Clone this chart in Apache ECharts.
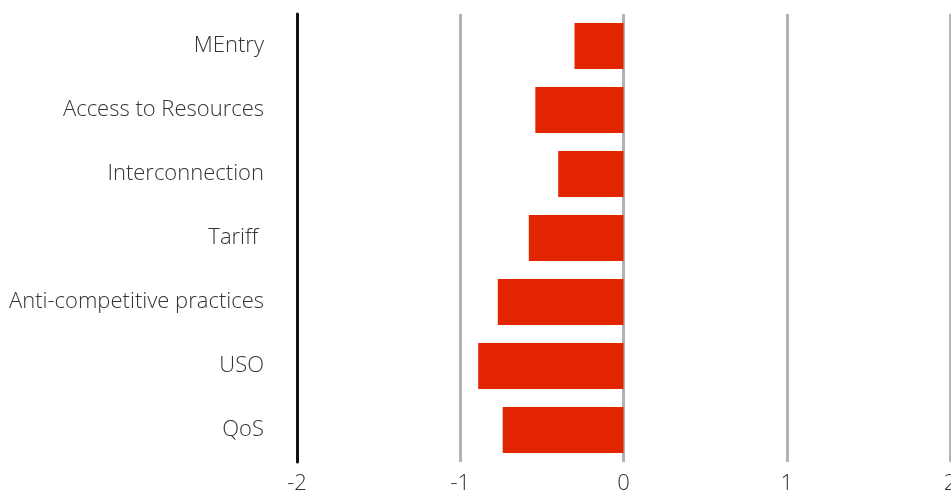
<!DOCTYPE html>
<html>
<head>
<meta charset="utf-8">
<script src="https://cdn.jsdelivr.net/npm/echarts@6/dist/echarts.min.js"></script>
<style>
  html, body { margin: 0; padding: 0; background: #fff; }
  #chart { width: 951px; height: 490px; }
</style>
</head>
<body>
<div id="chart"></div>
<script>
const categories = ["MEntry", "Access to Resources", "Interconnection", "Tariff ", "Anti-competitive practices", "USO", "QoS"];
const values = [-0.30, -0.54, -0.40, -0.58, -0.77, -0.89, -0.74];
const xTicks = [-2, -1, 0, 1, 2];

const chart = echarts.init(document.getElementById("chart"));
chart.setOption({
  backgroundColor: "#fff",
  animation: false,
  grid: { left: 297, right: 1, top: 14, bottom: 28, containLabel: false, outerBoundsMode: "none" },
  xAxis: {
    type: "value",
    min: xTicks[0],
    max: xTicks[xTicks.length - 1],
    interval: 1,
    axisLine: { show: false },
    axisTick: { show: false },
    splitLine: { show: true, lineStyle: { color: "#b3b3b3", width: 3 } },
    axisLabel: {
      color: "#333",
      fontFamily: "Open Sans",
      fontWeight: 300,
      fontSize: 22,
      margin: 11,
      showMaxLabel: true,
      showMinLabel: true,
      hideOverlap: false
    }
  },
  yAxis: {
    type: "category",
    data: categories,
    inverse: true,
    axisLine: { show: true, onZero: false, lineStyle: { color: "#111", width: 3 } },
    axisTick: { show: false },
    splitLine: { show: false },
    axisLabel: {
      color: "#333",
      fontFamily: "Open Sans",
      fontWeight: 300,
      fontSize: 22,
      margin: 33
    }
  },
  series: [
    {
      type: "bar",
      data: values,
      barWidth: "72%",
      itemStyle: { color: "#e22400" }
    }
  ]
});
</script>
</body>
</html>
